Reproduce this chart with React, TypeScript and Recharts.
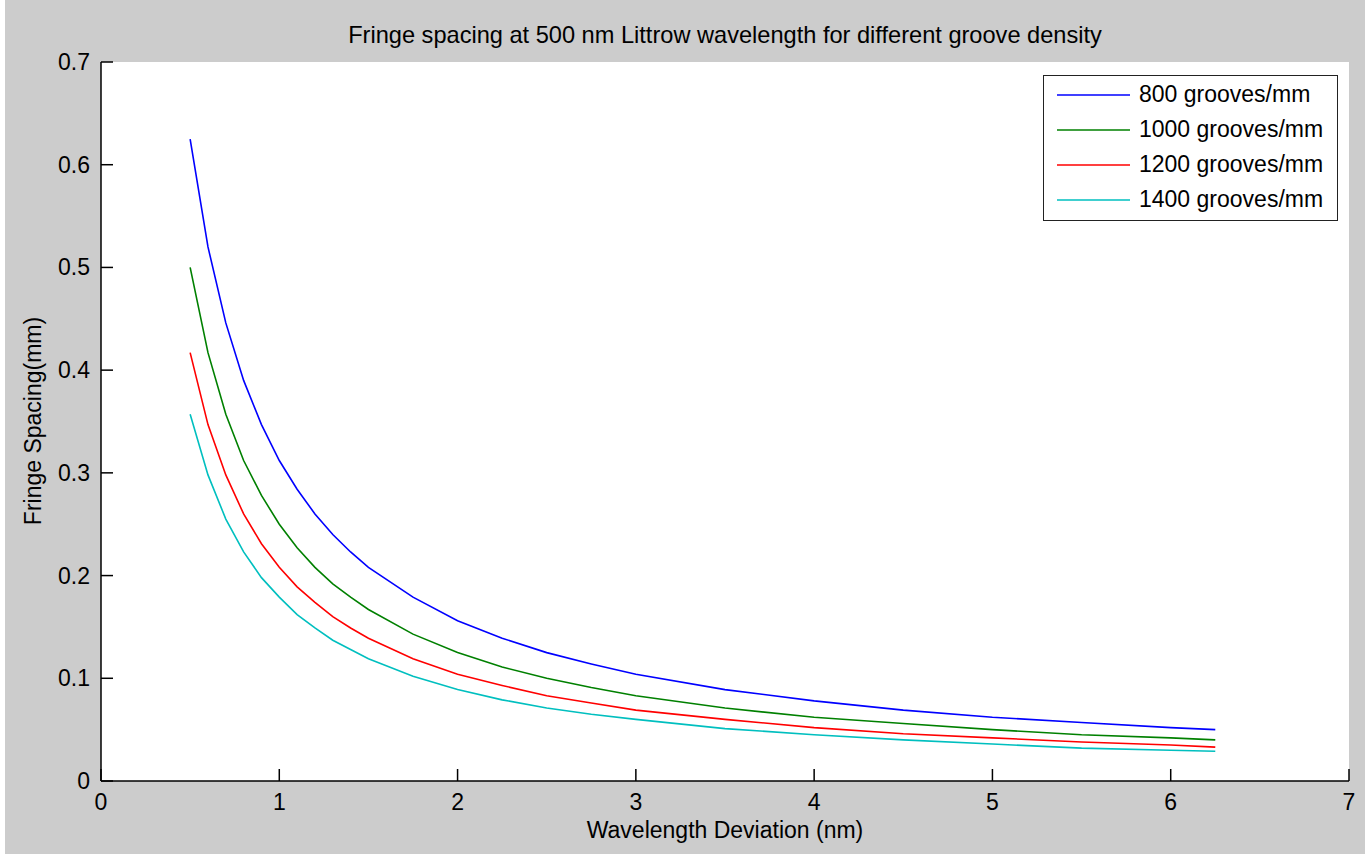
import { LineChart, Line, XAxis, YAxis } from "recharts";

// wavelength deviation (nm)
const deviation = [0.5, 0.6, 0.7, 0.8, 0.9, 1.0, 1.1, 1.2, 1.3, 1.4, 1.5, 1.75, 2.0, 2.25, 2.5, 2.75, 3.0, 3.5, 4.0, 4.5, 5.0, 5.5, 6.0, 6.25];

// fringe spacing (mm)
const g800 = [0.625, 0.52, 0.446, 0.39, 0.347, 0.312, 0.284, 0.26, 0.24, 0.223, 0.208, 0.179, 0.156, 0.139, 0.125, 0.114, 0.104, 0.089, 0.078, 0.069, 0.062, 0.057, 0.052, 0.05];
const g1000 = [0.5, 0.417, 0.357, 0.312, 0.278, 0.25, 0.227, 0.208, 0.192, 0.179, 0.167, 0.143, 0.125, 0.111, 0.1, 0.091, 0.083, 0.071, 0.062, 0.056, 0.05, 0.045, 0.042, 0.04];
const g1200 = [0.417, 0.347, 0.298, 0.26, 0.231, 0.208, 0.189, 0.174, 0.16, 0.149, 0.139, 0.119, 0.104, 0.093, 0.083, 0.076, 0.069, 0.06, 0.052, 0.046, 0.042, 0.038, 0.035, 0.033];
const g1400 = [0.357, 0.298, 0.255, 0.223, 0.198, 0.179, 0.162, 0.149, 0.137, 0.128, 0.119, 0.102, 0.089, 0.079, 0.071, 0.065, 0.06, 0.051, 0.045, 0.04, 0.036, 0.032, 0.03, 0.029];

const xTicks = [0, 1, 2, 3, 4, 5, 6, 7];
const yTicks = [0, 0.1, 0.2, 0.3, 0.4, 0.5, 0.6, 0.7];

const series = [
  { key: "g800", name: "800 grooves/mm", color: "#0000ff" },
  { key: "g1000", name: "1000 grooves/mm", color: "#008000" },
  { key: "g1200", name: "1200 grooves/mm", color: "#ff0000" },
  { key: "g1400", name: "1400 grooves/mm", color: "#00bfbf" },
];

const data = deviation.map((x, i) => ({
  x,
  g800: g800[i],
  g1000: g1000[i],
  g1200: g1200[i],
  g1400: g1400[i],
}));

const FONT = "'Liberation Sans', Arial, sans-serif";
const FS = 23;
const TICK_LEN = 12;
const LABEL_GAP = 12;

// matlab style: tick marks point into the plot box
function BottomTick(props: any) {
  const { x, y, payload } = props;
  const axisY = y - LABEL_GAP;
  return (
    <g>
      <line x1={x} y1={axisY} x2={x} y2={axisY - TICK_LEN} stroke="#000" strokeWidth={1.5} />
      <text x={x} y={axisY + 29} textAnchor="middle" fontSize={FS} fontFamily={FONT} fill="#000">
        {payload.value}
      </text>
    </g>
  );
}

function TopTick(props: any) {
  const { x, y } = props;
  return <line x1={x} y1={y} x2={x} y2={y + TICK_LEN} stroke="#000" strokeWidth={1.5} />;
}

function LeftTick(props: any) {
  const { x, y, payload } = props;
  const axisX = x + LABEL_GAP;
  return (
    <g>
      <line x1={axisX} y1={y} x2={axisX + TICK_LEN} y2={y} stroke="#000" strokeWidth={1.5} />
      <text x={axisX - 11} y={y + 8} textAnchor="end" fontSize={FS} fontFamily={FONT} fill="#000">
        {payload.value}
      </text>
    </g>
  );
}

function RightTick(props: any) {
  const { x, y } = props;
  return <line x1={x} y1={y} x2={x - TICK_LEN} y2={y} stroke="#000" strokeWidth={1.5} />;
}

function LegendBox() {
  return (
    <div
      style={{
        position: "absolute",
        left: 1043,
        top: 75,
        width: 295,
        height: 146,
        background: "#fff",
        border: "1.5px solid #222",
        boxSizing: "border-box",
        fontFamily: FONT,
        fontSize: FS,
        color: "#000",
        paddingTop: 1,
      }}
    >
      {series.map((s) => (
        <div key={s.key} style={{ display: "flex", alignItems: "center", height: 35 }}>
          <svg width={86} height={4} style={{ display: "block" }}>
            <line x1={13} y1={2} x2={86} y2={2} stroke={s.color} strokeWidth={1.6} />
          </svg>
          <span style={{ marginLeft: 9, lineHeight: "35px" }}>{s.name}</span>
        </div>
      ))}
    </div>
  );
}

export default function App() {
  return (
    <div style={{ position: "absolute", left: 0, top: 0, width: 1369, height: 854, background: "#fff" }}>
      <div style={{ position: "absolute", left: 5, top: 0, width: 1360, height: 854, background: "#cccccc" }} />
      {/* white axes box behind the chart */}
      <div style={{ position: "absolute", left: 101, top: 62, width: 1248, height: 719, background: "#fff" }} />
      <div style={{ position: "absolute", left: 0, top: 0 }}>
        <LineChart
          width={1369}
          height={854}
          data={data}
          margin={{ top: 62, right: 20, bottom: 1, left: 31 }}
        >
          <XAxis
            xAxisId="b"
            dataKey="x"
            type="number"
            domain={[0, 7]}
            ticks={xTicks}
            tickLine={false}
            tickSize={0}
            tickMargin={LABEL_GAP}
            tick={<BottomTick />}
            axisLine={{ stroke: "#000", strokeWidth: 1.5 }}
            height={72}
          />
          <XAxis
            xAxisId="t"
            orientation="top"
            dataKey="x"
            type="number"
            domain={[0, 7]}
            ticks={xTicks}
            tickLine={false}
            tickSize={0}
            tickMargin={0}
            tick={<TopTick />}
            axisLine={{ stroke: "#000", strokeWidth: 1.5 }}
            height={0}
          />
          <YAxis
            yAxisId="l"
            type="number"
            domain={[0, 0.7]}
            ticks={yTicks}
            tickLine={false}
            tickSize={0}
            tickMargin={LABEL_GAP}
            tick={<LeftTick />}
            axisLine={{ stroke: "#000", strokeWidth: 1.5 }}
            width={70}
          />
          <YAxis
            yAxisId="r"
            orientation="right"
            type="number"
            domain={[0, 0.7]}
            ticks={yTicks}
            tickLine={false}
            tickSize={0}
            tickMargin={0}
            tick={<RightTick />}
            axisLine={{ stroke: "#000", strokeWidth: 1.5 }}
            width={0}
          />
          {series.map((s) => (
            <Line
              key={s.key}
              xAxisId="b"
              yAxisId="l"
              type="linear"
              dataKey={s.key}
              name={s.name}
              stroke={s.color}
              strokeWidth={1.6}
              dot={false}
              isAnimationActive={false}
            />
          ))}
        </LineChart>
      </div>
      <LegendBox />
      <div
        style={{
          position: "absolute",
          left: 101,
          width: 1248,
          top: 22,
          textAlign: "center",
          fontFamily: FONT,
          fontSize: 23.6,
          color: "#000",
        }}
      >
        Fringe spacing at 500 nm Littrow wavelength for different groove density
      </div>
      <div
        style={{
          position: "absolute",
          left: 101,
          width: 1248,
          top: 817,
          textAlign: "center",
          fontFamily: FONT,
          fontSize: FS,
          color: "#000",
        }}
      >
        Wavelength Deviation (nm)
      </div>
      <div
        style={{
          position: "absolute",
          left: 33,
          top: 421,
          transform: "translate(-50%, -50%) rotate(-90deg)",
          whiteSpace: "nowrap",
          fontFamily: FONT,
          fontSize: FS,
          color: "#000",
        }}
      >
        Fringe Spacing(mm)
      </div>
    </div>
  );
}
